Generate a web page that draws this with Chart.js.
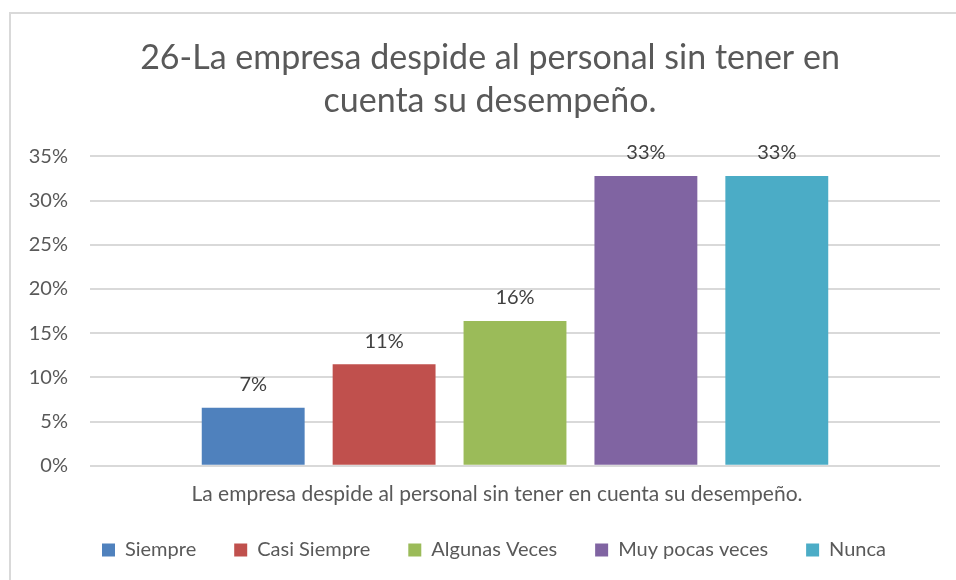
<!DOCTYPE html>
<html>
<head>
<meta charset="utf-8">
<script src="https://cdn.jsdelivr.net/npm/chart.js@4"></script>
<style>
  html, body { margin: 0; padding: 0; background: #fff; }
  #frame { position: absolute; left: 9px; top: 12px; width: 1000px; height: 620px; border-left: 2px solid #d9d9d9; border-top: 2px solid #d9d9d9; box-sizing: border-box; }
  #wrap { position: absolute; left: 0; top: 0; width: 956px; height: 580px; }
</style>
</head>
<body>
<div id="frame"></div>
<div id="wrap"><canvas id="chart"></canvas></div>
<script>
  // chart data
  const categories = ['La empresa despide al personal sin tener en cuenta su desempeño.'];
  const seriesNames = ['Siempre', 'Casi Siempre', 'Algunas Veces', 'Muy pocas veces', 'Nunca'];
  const seriesValues = [0.0656, 0.1148, 0.1639, 0.3279, 0.3279];
  const seriesColors = ['#4F81BD', '#C0504D', '#9BBB59', '#8064A2', '#4BACC6'];
  const yTicks = [0, 0.05, 0.10, 0.15, 0.20, 0.25, 0.30, 0.35];

  const TEXT_COLOR = '#595959';
  const GRID_COLOR = '#d9d9d9';
  const LEGEND_TRIM = 13;
  Chart.defaults.font.family = "Lato, 'Open Sans', sans-serif";

  // simple value labels above each bar
  const barLabels = {
    id: 'barLabels',
    afterDatasetsDraw(chart) {
      const ctx = chart.ctx;
      ctx.save();
      ctx.font = "20px Lato, 'Open Sans', sans-serif";
      ctx.fillStyle = '#404040';
      ctx.textAlign = 'center';
      ctx.textBaseline = 'middle';
      chart.data.datasets.forEach((ds, i) => {
        chart.getDatasetMeta(i).data.forEach((bar, j) => {
          ctx.fillText(Math.round(ds.data[j] * 100) + '%', bar.x, bar.y - 23);
        });
      });
      ctx.restore();
    }
  };

  // legend padding gives the wide item spacing but too much height: trim it,
  // and nudge title/legend right because the Excel frame starts a bit inset
  const tweakBoxes = {
    id: 'tweakBoxes',
    beforeLayout(chart) {
      const lg = chart.legend;
      if (lg && !lg._trimmed) {
        const fit = lg.fit.bind(lg);
        lg.fit = function () { fit(); this.height -= LEGEND_TRIM; };
        lg._trimmed = true;
      }
    },
    afterLayout(chart) {
      if (chart.titleBlock) { chart.titleBlock.left += 20; chart.titleBlock.right += 20; }
      if (chart.legend) {
        chart.legend.left += 24; chart.legend.right += 24;
        chart.legend.top -= LEGEND_TRIM;
      }
    }
  };

  new Chart(document.getElementById('chart'), {
    type: 'bar',
    data: {
      labels: categories,
      datasets: seriesNames.map((name, i) => ({
        label: name,
        data: [seriesValues[i]],
        backgroundColor: seriesColors[i],
        borderWidth: 0,
        categoryPercentage: 0.77,
        barPercentage: 0.786
      }))
    },
    options: {
      responsive: true,
      maintainAspectRatio: false,
      animation: false,
      layout: { padding: { top: 12, left: 0, right: 16, bottom: 10 } },
      plugins: {
        title: {
          display: true,
          text: ['26-La empresa despide al personal sin tener en', 'cuenta su desempeño.'],
          color: TEXT_COLOR,
          font: { size: 34, weight: 'normal', lineHeight: 1.27 },
          padding: { top: 24, bottom: 34 }
        },
        legend: {
          position: 'bottom',
          labels: { color: TEXT_COLOR, font: { size: 20 }, boxWidth: 13, boxHeight: 13, padding: 38 }
        },
        tooltip: { enabled: false }
      },
      scales: {
        x: {
          grid: { display: false },
          border: { display: false },
          ticks: { color: TEXT_COLOR, font: { size: 21 }, padding: 8, labelOffset: -18 }
        },
        y: {
          min: 0,
          max: 0.35,
          afterFit: (scale) => { scale.width = 90; },
          afterBuildTicks: (scale) => { scale.ticks = yTicks.map(v => ({ value: v })); },
          grid: { color: GRID_COLOR, lineWidth: 2, drawTicks: false },
          border: { display: false },
          ticks: {
            color: TEXT_COLOR,
            font: { size: 20 },
            padding: 22,
            callback: (v) => Math.round(v * 100) + '%'
          }
        }
      }
    },
    plugins: [barLabels, tweakBoxes]
  });
</script>
</body>
</html>
